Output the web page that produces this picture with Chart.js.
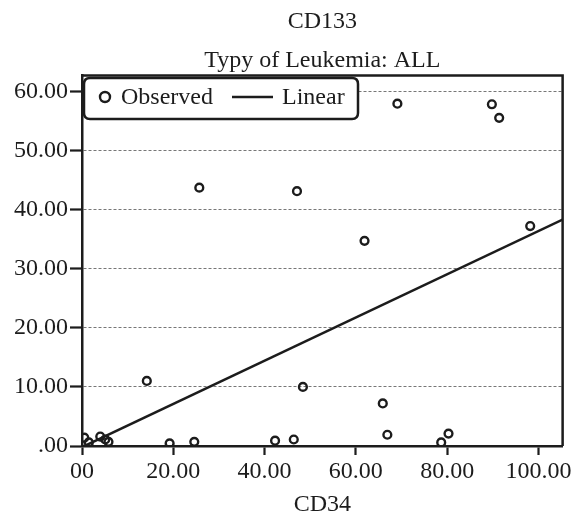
<!DOCTYPE html>
<html>
<head>
<meta charset="utf-8">
<script src="https://cdn.jsdelivr.net/npm/chart.js@4/dist/chart.umd.min.js"></script>
<style>
  html, body { margin: 0; padding: 0; background: #fff; }
  #wrap { width: 574px; height: 519px; }
</style>
</head>
<body>
<div id="wrap"><canvas id="c" width="574" height="519"></canvas></div>
<script>
// ---- data ----
const obsX = [0.5, 1.5, 4.0, 5.1, 5.8, 14.2, 19.2, 24.6, 25.7, 42.3, 46.4, 47.1, 48.4, 61.9, 65.9, 66.9, 69.1, 78.7, 80.3, 89.8, 91.4, 98.2];
const obsY = [1.4, 0.6, 1.6, 1.1, 0.7, 11.0, 0.45, 0.7, 43.7, 0.9, 1.1, 43.1, 10.0, 34.7, 7.2, 1.9, 57.9, 0.6, 2.1, 57.8, 55.5, 37.2];
const fitX = [0, 105.3];
const fitY = [-0.2, 38.3];
const xTicks = [0, 20, 40, 60, 80, 100];
const xTickLabels = ["00", "20.00", "40.00", "60.00", "80.00", "100.00"];
const yTicks = [0, 10, 20, 30, 40, 50, 60];
const yTickLabels = [".00", "10.00", "20.00", "30.00", "40.00", "50.00", "60.00"];
const titleText = "CD133";
const subtitleText = "Typy of Leukemia: ALL";
const xTitle = "CD34";
const legendLabels = ["Observed", "Linear"];

const FONT = "'Liberation Serif', 'Times New Roman', serif";
const INK = "#1c1c1c";

const framePlugin = {
  id: 'frame',
  afterDatasetsDraw(chart) {
    const a = chart.chartArea, ctx = chart.ctx;
    ctx.save();
    ctx.strokeStyle = INK;
    ctx.lineWidth = 2.5;
    ctx.beginPath();
    ctx.moveTo(a.left, a.top);
    ctx.lineTo(a.right, a.top);
    ctx.lineTo(a.right, a.bottom);
    ctx.stroke();
    ctx.restore();
  },
  afterDraw(chart) {
    // legend box inside plot area
    const ctx = chart.ctx;
    const x0 = 84, y0 = 78, x1 = 358, y1 = 119, r = 6;
    ctx.save();
    ctx.beginPath();
    ctx.moveTo(x0 + r, y0);
    ctx.lineTo(x1 - r, y0);
    ctx.quadraticCurveTo(x1, y0, x1, y0 + r);
    ctx.lineTo(x1, y1 - r);
    ctx.quadraticCurveTo(x1, y1, x1 - r, y1);
    ctx.lineTo(x0 + r, y1);
    ctx.quadraticCurveTo(x0, y1, x0, y1 - r);
    ctx.lineTo(x0, y0 + r);
    ctx.quadraticCurveTo(x0, y0, x0 + r, y0);
    ctx.closePath();
    ctx.fillStyle = '#fff';
    ctx.fill();
    ctx.strokeStyle = INK;
    ctx.lineWidth = 2.5;
    ctx.stroke();
    const cy = 97;
    // circle marker
    ctx.beginPath();
    ctx.arc(105, cy, 5, 0, Math.PI * 2);
    ctx.lineWidth = 2.4;
    ctx.stroke();
    ctx.fillStyle = INK;
    ctx.font = '24px ' + FONT;
    ctx.textBaseline = 'middle';
    ctx.textAlign = 'left';
    ctx.fillText(legendLabels[0], 121, cy + 1);
    // line sample
    ctx.beginPath();
    ctx.moveTo(232, cy);
    ctx.lineTo(273, cy);
    ctx.lineWidth = 2.5;
    ctx.stroke();
    ctx.fillText(legendLabels[1], 282, cy + 1);
    ctx.restore();
  }
};

const ctx = document.getElementById('c').getContext('2d');
new Chart(ctx, {
  type: 'scatter',
  data: {
    datasets: [
      {
        label: legendLabels[0],
        data: obsX.map((x, i) => ({ x: x, y: obsY[i] })),
        pointStyle: 'circle',
        pointRadius: 3.9,
        pointHoverRadius: 3.9,
        pointBorderWidth: 2.4,
        borderColor: INK,
        backgroundColor: 'rgba(0,0,0,0)',
        showLine: false
      },
      {
        label: legendLabels[1],
        data: fitX.map((x, i) => ({ x: x, y: fitY[i] })),
        showLine: true,
        pointRadius: 0,
        borderColor: INK,
        borderWidth: 2.5,
        backgroundColor: INK
      }
    ]
  },
  options: {
    responsive: false,
    animation: false,
    events: [],
    layout: { padding: { left: 0, right: 10.5, top: 0, bottom: 0 } },
    plugins: {
      legend: { display: false },
      tooltip: { enabled: false },
      title: {
        display: true,
        text: titleText,
        color: INK,
        font: { family: FONT, size: 24, weight: 'normal', lineHeight: 1.2 },
        padding: { top: 7, bottom: 0 },
        fullSize: false
      },
      subtitle: {
        display: true,
        text: subtitleText,
        color: INK,
        font: { family: FONT, size: 24, weight: 'normal', lineHeight: 1.2 },
        padding: { top: 11, bottom: 0 },
        fullSize: false
      }
    },
    scales: {
      x: {
        type: 'linear',
        min: 0,
        max: 105.3,
        afterBuildTicks(scale) { scale.ticks = xTicks.map(v => ({ value: v })); },
        afterFit(scale) { scale.height = 73; },
        ticks: {
          color: INK,
          font: { family: FONT, size: 24 },
          padding: 2,
          maxRotation: 0,
          autoSkip: false,
          callback(value) { const i = xTicks.indexOf(value); return i >= 0 ? xTickLabels[i] : ''; }
        },
        grid: {
          drawOnChartArea: false,
          drawTicks: true,
          tickLength: 9,
          tickColor: INK,
          tickWidth: 2.2
        },
        border: { display: true, color: INK, width: 2.5 },
        title: {
          display: true,
          text: xTitle,
          color: INK,
          font: { family: FONT, size: 24 },
          padding: { top: 0, bottom: 0 }
        }
      },
      y: {
        type: 'linear',
        min: 0,
        max: 62.65,
        afterBuildTicks(scale) { scale.ticks = yTicks.map(v => ({ value: v })); },
        afterFit(scale) { scale.width = 82; },
        ticks: {
          color: INK,
          font: { family: FONT, size: 24 },
          padding: 2,
          autoSkip: false,
          callback(value) { const i = yTicks.indexOf(value); return i >= 0 ? yTickLabels[i] : ''; }
        },
        grid: {
          drawOnChartArea: true,
          color: '#777',
          lineWidth: 1,
          drawTicks: true,
          tickLength: 12,
          tickColor: INK,
          tickWidth: 2.2
        },
        border: { display: true, color: INK, width: 2.5, dash: [3, 2] }
      }
    }
  },
  plugins: [framePlugin]
});
</script>
</body>
</html>
